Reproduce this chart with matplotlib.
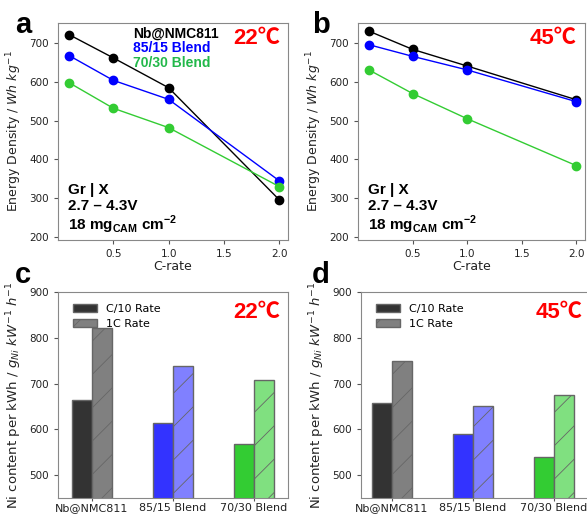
import matplotlib
matplotlib.use('Agg')
import matplotlib.pyplot as plt
import numpy as np

plt.rcParams['font.family'] = ['DejaVu Sans']
plt.rcParams['hatch.linewidth'] = 0.6
plt.rcParams['mathtext.fontset'] = 'custom'
plt.rcParams['mathtext.rm'] = 'DejaVu Sans'
plt.rcParams['mathtext.it'] = 'DejaVu Sans:italic'
plt.rcParams['mathtext.bf'] = 'Liberation Sans:bold'

# energy density vs C-rate
c_rate = [0.1, 0.5, 1.0, 2.0]
ed_22_nb = [722, 662, 585, 296]
ed_22_8515 = [668, 604, 555, 345]
ed_22_7030 = [598, 532, 482, 330]
ed_45_nb = [731, 684, 641, 554]
ed_45_8515 = [696, 666, 631, 549]
ed_45_7030 = [631, 570, 505, 384]

# Ni content per kWh
materials = ['Nb@NMC811', '85/15 Blend', '70/30 Blend']
ni_22_c10 = [665, 614, 568]
ni_22_1c = [822, 738, 707]
ni_45_c10 = [657, 590, 539]
ni_45_1c = [749, 651, 674]

series_names = ['Nb@NMC811', '85/15 Blend', '70/30 Blend']
line_colors = ['black', 'blue', '#33cc33']
text_colors = ['black', 'blue', '#22b84a']
bar_dark = ['#333333', '#3333ff', '#33cc33']
bar_light = ['#808080', '#8080ff', '#80e080']

BOLD = ['Liberation Sans', 'Noto Sans CJK SC', 'DejaVu Sans']
TEMP = ['Liberation Sans', 'Noto Sans CJK SC', 'DejaVu Sans']

fig = plt.figure(figsize=(5.87, 5.15), dpi=100)


def style_axes(ax):
    for s in ax.spines.values():
        s.set_color('#888888')
    ax.tick_params(colors='#555555', labelcolor='#222222', labelsize=7.5, length=3)


def line_panel(ax, data, temp, show_names):
    for vals, col in zip(data, line_colors):
        ax.plot(c_rate, vals, '-o', color=col, lw=1, ms=6)
    ax.set_xlim(0.0, 2.08)
    ax.set_ylim(192, 752)
    ax.set_xticks([0.5, 1.0, 1.5, 2.0])
    ax.set_yticks([200, 300, 400, 500, 600, 700])
    ax.set_xlabel('C-rate', fontsize=9, color='#222222', labelpad=1)
    ax.set_ylabel(r'Energy Density / $Wh\ kg^{-1}$', fontsize=9, color='#222222')
    style_axes(ax)
    if show_names:
        for i, (nm, col) in enumerate(zip(series_names, text_colors)):
            ax.text(0.326, 0.952 - i * 0.068, nm, transform=ax.transAxes, color=col,
                    fontsize=10, fontweight='bold', family=BOLD, va='center')
    ax.text(0.965, 0.93, temp, transform=ax.transAxes, color='red', fontsize=16,
            fontweight='bold', family=TEMP, ha='right', va='center')
    ax.text(0.045, 0.23, 'Gr | X', transform=ax.transAxes, fontsize=11,
            fontweight='bold', family=BOLD, va='center')
    ax.text(0.045, 0.155, '2.7 – 4.3V', transform=ax.transAxes, fontsize=11,
            fontweight='bold', family=BOLD, va='center')
    ax.text(0.045, 0.07, r'18 mg$_{\mathbf{CAM}}$ cm$^{\mathbf{-2}}$', transform=ax.transAxes,
            fontsize=11, fontweight='bold', family=BOLD, va='center')


def bar_panel(ax, c10, c1, temp, xl):
    x = np.arange(len(materials))
    w = 0.25
    ax.bar(x - w / 2, c10, w, color=bar_dark, edgecolor='#666666', lw=1)
    ax.bar(x + w / 2, c1, w, color=bar_light, edgecolor='#666666', lw=1, hatch='/')
    ax.set_xticks(x)
    ax.set_xticklabels(materials, fontsize=8)
    ax.set_xlim(xl, xl + 2.84)
    ax.set_ylim(450, 900)
    ax.set_yticks([500, 600, 700, 800, 900])
    ax.set_ylabel(r'Ni content per kWh / $g_{Ni}\ kW^{-1}\ h^{-1}$', fontsize=9.5, color='#222222')
    style_axes(ax)
    ax.tick_params(axis='x', labelsize=8, length=2, pad=1.5)
    h1 = plt.Rectangle((0, 0), 1, 1, facecolor='#333333', edgecolor='#666666')
    h2 = plt.Rectangle((0, 0), 1, 1, facecolor='#808080', edgecolor='#666666', hatch='/')
    ax.legend([h1, h2], ['C/10 Rate', '1C Rate'], loc='upper left', frameon=False,
              fontsize=8, bbox_to_anchor=(0.02, 0.99), handlelength=2.2, labelspacing=0.4)
    ax.text(0.965, 0.9, temp, transform=ax.transAxes, color='red', fontsize=16,
            fontweight='bold', family=TEMP, ha='right', va='center')


ax_a = fig.add_axes([58 / 587, 1 - 240 / 515, 230 / 587, 217 / 515])
ax_b = fig.add_axes([358 / 587, 1 - 240 / 515, 227 / 587, 217 / 515])
ax_c = fig.add_axes([58 / 587, 1 - 498 / 515, 230 / 587, 206 / 515])
ax_d = fig.add_axes([361 / 587, 1 - 498 / 515, 230 / 587, 206 / 515])

line_panel(ax_a, [ed_22_nb, ed_22_8515, ed_22_7030], '22℃', True)
line_panel(ax_b, [ed_45_nb, ed_45_8515, ed_45_7030], '45℃', False)
bar_panel(ax_c, ni_22_c10, ni_22_1c, '22℃', -0.42)
bar_panel(ax_d, ni_45_c10, ni_45_1c, '45℃', -0.38)

for lbl, px, py in [('a', 15, 33), ('b', 312, 33), ('c', 15, 283), ('d', 312, 283)]:
    fig.text(px / 587, 1 - py / 515, lbl, fontsize=21, fontweight='bold',
             family=BOLD, va='baseline')

fig.savefig('out.png', dpi=100)
